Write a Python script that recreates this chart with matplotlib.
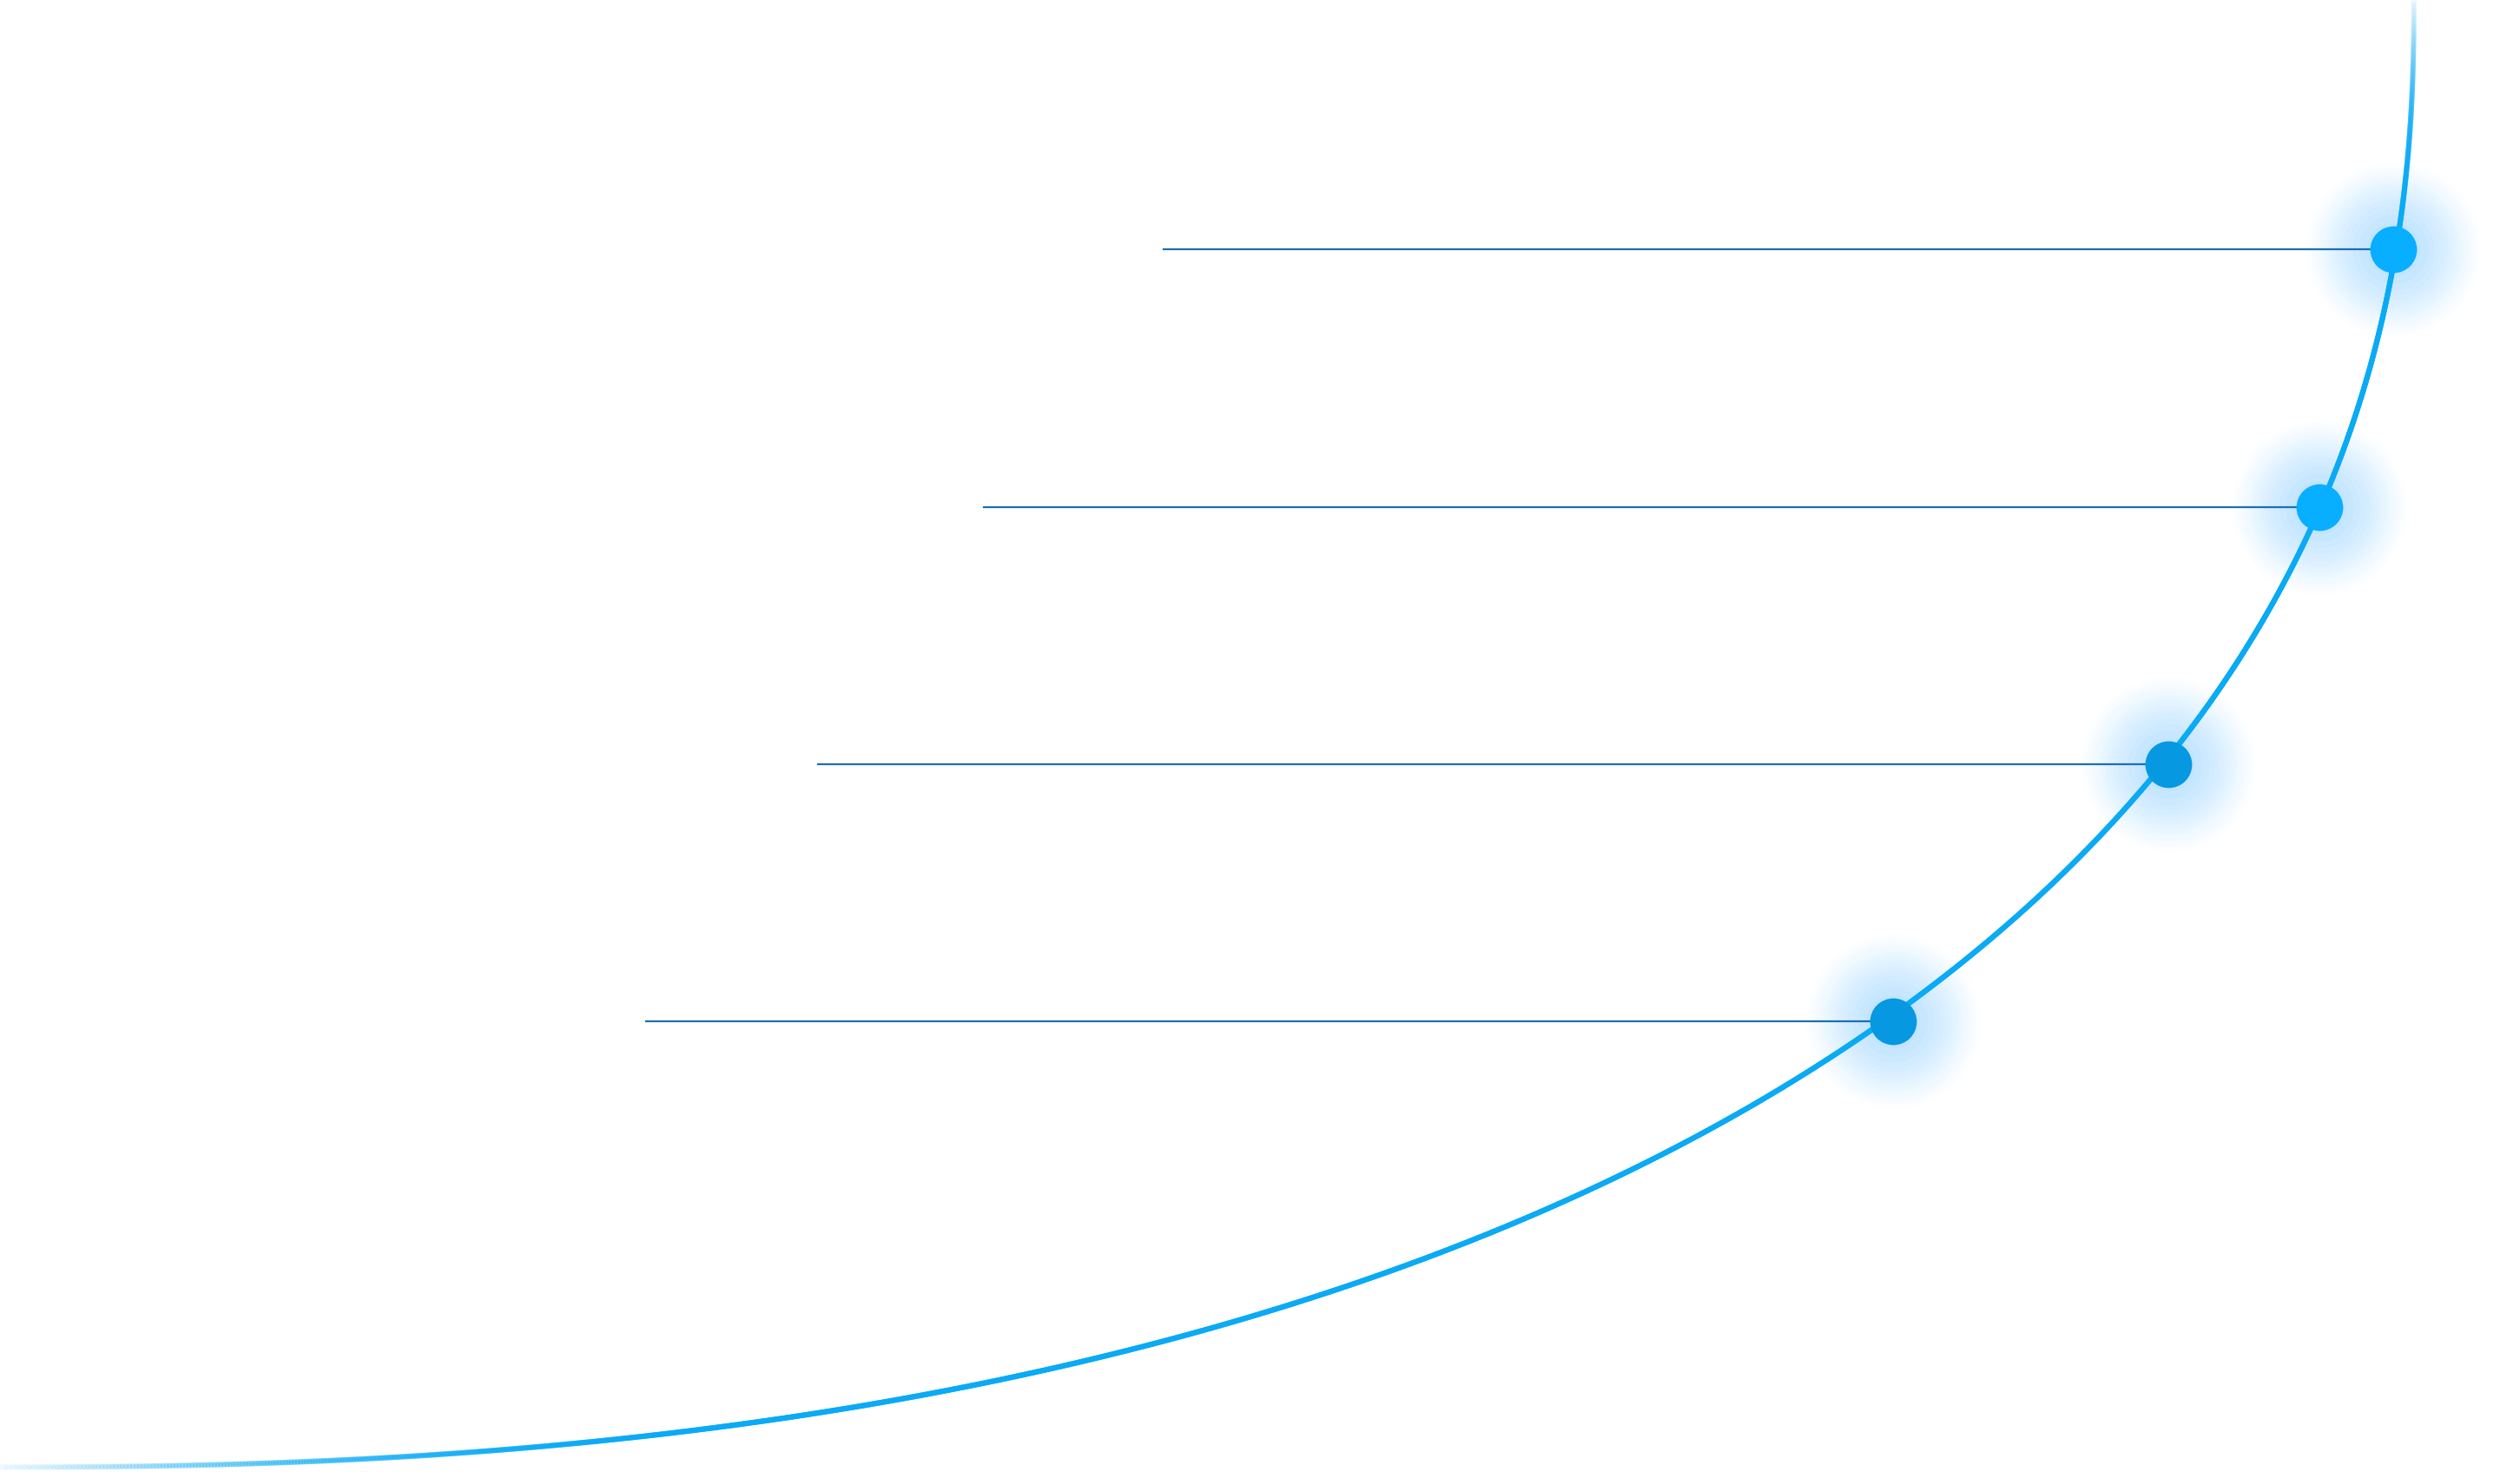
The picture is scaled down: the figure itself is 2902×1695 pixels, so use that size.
import numpy as np
import matplotlib
matplotlib.use("Agg")
import matplotlib.pyplot as plt
from matplotlib.collections import LineCollection
from matplotlib.colors import to_rgba

# data (display units)
dot_y = [155, 315, 475, 635]
dot_x = [1489, 1443, 1349, 1178]
line_start_x = [724, 612, 509, 402]
dot_colors = ["#08AEFF", "#08AEFF", "#0698E0", "#0698E0"]
curve_a, curve_b, curve_n = 1502, 912, 2.3

fig = plt.figure(figsize=(29.02, 16.95), dpi=100)
ax = fig.add_axes([0, 0, 1, 1])
ax.set_xlim(0, 1568)
ax.set_ylim(915, 0)
ax.axis("off")

# curve
t = np.linspace(0, np.pi / 2, 1500)
cx = curve_a * np.cos(t) ** (2 / curve_n)
cy = curve_b * np.sin(t) ** (2 / curve_n)
pts = np.column_stack([cx, cy]).reshape(-1, 1, 2)
segs = np.concatenate([pts[:-1], pts[1:]], axis=1)
base = np.array(to_rgba("#0AAAF5"))
cols = np.tile(base, (len(segs), 1))
frac = np.linspace(0, 1, len(segs))
alpha = np.ones(len(segs))
alpha = np.minimum(alpha, np.clip(frac / 0.08, 0, 1))
alpha = np.minimum(alpha, np.clip((1 - frac) / 0.16, 0, 1))
cols[:, 3] = 0.05 + 0.95 * alpha
lc = LineCollection(segs, colors=cols, linewidths=4.5, capstyle="round")
ax.add_collection(lc)

for y, x, xs, c in zip(dot_y, dot_x, line_start_x, dot_colors):
    ax.plot([xs, x], [y, y], color="#1D6FB0", lw=1.6, zorder=2)
    for r, a in zip(np.linspace(4200, 400, 16), np.linspace(0.01, 0.04, 16)):
        ax.scatter([x], [y], s=r * 5, color="#5CCBFF", alpha=a, lw=0, zorder=1)
    ax.scatter([x], [y], s=1500, color=c, lw=0, zorder=3)

fig.savefig("out.png", dpi=100)
